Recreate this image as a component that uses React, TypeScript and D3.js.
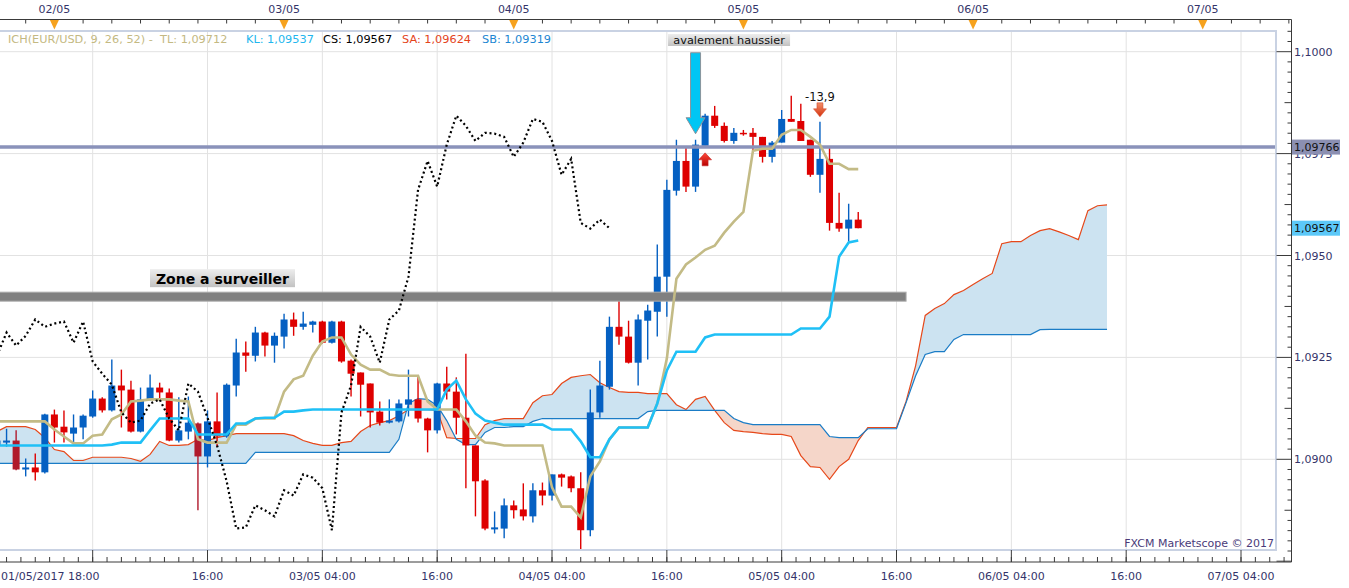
import * as React from "react";
import * as d3 from "d3";

// hourly EUR/USD candles, first one = 01/05/2017 18:00 (UTC)
const START = Date.UTC(2017, 4, 1, 18);
const HOUR = 3600 * 1000;

const opens = [
  1.09034,
  1.09041, 1.09046, 1.08975, 1.08980, 1.08968, 1.09110, 1.09080, 1.09063, 1.09078, 1.09105,
  1.09149, 1.09120, 1.09181, 1.09171, 1.09068, 1.09147, 1.09176, 1.09164, 1.09046, 1.09068,
  1.09088, 1.09007, 1.09093, 1.09056, 1.09181, 1.09262, 1.09254, 1.09311, 1.09279, 1.09301,
  1.09343, 1.09325, 1.09330, 1.09338, 1.09286, 1.09338, 1.09242, 1.09213, 1.09186, 1.09117,
  1.09090, 1.09093, 1.09134, 1.09147, 1.09100, 1.09071, 1.09186, 1.09166, 1.09102, 1.09034,
  1.08948, 1.08828, 1.08830, 1.08887, 1.08877, 1.08860, 1.08924, 1.08911, 1.08963, 1.08958,
  1.08929, 1.08826, 1.09115, 1.09178, 1.09325, 1.09301, 1.09237, 1.09340, 1.09362, 1.09448,
  1.09659, 1.09732, 1.09669, 1.09769, 1.09843, 1.09818, 1.09781, 1.09801, 1.09801, 1.09791,
  1.09742, 1.09777, 1.09835, 1.09830, 1.09784, 1.09698, 1.09737, 1.09580, 1.09566, 1.09588,
];
const highs = [
  1.09053,
  1.09075, 1.09071, 1.09002, 1.09014, 1.09112, 1.09122, 1.09120, 1.09110, 1.09110, 1.09169,
  1.09152, 1.09245, 1.09220, 1.09193, 1.09176, 1.09208, 1.09188, 1.09174, 1.09152, 1.09154,
  1.09090, 1.09120, 1.09164, 1.09186, 1.09296, 1.09289, 1.09325, 1.09313, 1.09311, 1.09357,
  1.09360, 1.09362, 1.09340, 1.09340, 1.09340, 1.09340, 1.09245, 1.09213, 1.09186, 1.09142,
  1.09147, 1.09147, 1.09220, 1.09205, 1.09102, 1.09188, 1.09227, 1.09201, 1.09259, 1.09034,
  1.08951, 1.08872, 1.08904, 1.08899, 1.08941, 1.08941, 1.08943, 1.08963, 1.08965, 1.08960,
  1.08968, 1.09171, 1.09242, 1.09350, 1.09406, 1.09340, 1.09355, 1.09379, 1.09527, 1.09686,
  1.09784, 1.09764, 1.09784, 1.09848, 1.09867, 1.09826, 1.09813, 1.09808, 1.09813, 1.09791,
  1.09781, 1.09857, 1.09892, 1.09872, 1.09784, 1.09828, 1.09764, 1.09654, 1.09627, 1.09607,
];
const lows = [
  1.09026,
  1.09031, 1.08973, 1.08958, 1.08948, 1.08965, 1.09041, 1.09041, 1.09039, 1.09049, 1.09102,
  1.09115, 1.09117, 1.09078, 1.09066, 1.09066, 1.09144, 1.09144, 1.09044, 1.09041, 1.09049,
  1.08875, 1.08980, 1.09031, 1.09053, 1.09154, 1.09215, 1.09240, 1.09252, 1.09237, 1.09272,
  1.09303, 1.09318, 1.09311, 1.09284, 1.09284, 1.09237, 1.09154, 1.09105, 1.09078, 1.09083,
  1.09088, 1.09090, 1.09105, 1.09090, 1.09017, 1.09063, 1.09147, 1.09061, 1.08929, 1.08860,
  1.08826, 1.08818, 1.08806, 1.08855, 1.08850, 1.08845, 1.08887, 1.08899, 1.08933, 1.08919,
  1.08747, 1.08811, 1.09102, 1.09171, 1.09281, 1.09235, 1.09181, 1.09245, 1.09301, 1.09350,
  1.09647, 1.09656, 1.09656, 1.09769, 1.09813, 1.09777, 1.09774, 1.09794, 1.09759, 1.09728,
  1.09728, 1.09777, 1.09828, 1.09781, 1.09693, 1.09654, 1.09561, 1.09558, 1.09534, 1.09567,
];
const closes = [
  1.09046,
  1.09046, 1.08975, 1.08980, 1.08968, 1.09110, 1.09078, 1.09066, 1.09078, 1.09107, 1.09149,
  1.09120, 1.09181, 1.09169, 1.09068, 1.09147, 1.09176, 1.09164, 1.09046, 1.09071, 1.09090,
  1.09007, 1.09093, 1.09056, 1.09183, 1.09262, 1.09254, 1.09311, 1.09279, 1.09303, 1.09343,
  1.09325, 1.09333, 1.09338, 1.09286, 1.09338, 1.09240, 1.09210, 1.09183, 1.09115, 1.09090,
  1.09095, 1.09137, 1.09147, 1.09100, 1.09071, 1.09186, 1.09166, 1.09102, 1.09034, 1.08946,
  1.08830, 1.08833, 1.08887, 1.08875, 1.08860, 1.08924, 1.08911, 1.08963, 1.08955, 1.08929,
  1.08826, 1.09115, 1.09181, 1.09325, 1.09301, 1.09237, 1.09343, 1.09365, 1.09448, 1.09661,
  1.09732, 1.09669, 1.09772, 1.09843, 1.09818, 1.09781, 1.09801, 1.09799, 1.09791, 1.09742,
  1.09777, 1.09835, 1.09828, 1.09781, 1.09698, 1.09737, 1.09580, 1.09566, 1.09588, 1.09567,
];

// Ichimoku lines, same time index as the candles
const tenkan = [
  1.09093,
  1.09093, 1.09093, 1.09093, 1.09093, 1.09093, 1.09073, 1.09056, 1.09039, 1.09039, 1.09058,
  1.09061, 1.09098, 1.09110, 1.09142, 1.09144, 1.09147, 1.09147, 1.09147, 1.09144, 1.09142,
  1.09049, 1.09041, 1.09041, 1.09041, 1.09085, 1.09085, 1.09100, 1.09100, 1.09100, 1.09166,
  1.09196, 1.09205, 1.09254, 1.09289, 1.09299, 1.09299, 1.09257, 1.09232, 1.09220, 1.09220,
  1.09208, 1.09205, 1.09205, 1.09205, 1.09142, 1.09122, 1.09122, 1.09122, 1.09093, 1.09058,
  1.09041, 1.09039, 1.09034, 1.09034, 1.09034, 1.09034, 1.09034, 1.08931, 1.08884, 1.08884,
  1.08857, 1.08958, 1.08995, 1.09049, 1.09078, 1.09078, 1.09078, 1.09078, 1.09137, 1.09247,
  1.09443, 1.09478, 1.09495, 1.09514, 1.09524, 1.09556, 1.09583, 1.09607, 1.09757, 1.09762,
  1.09762, 1.09796, 1.09808, 1.09808, 1.09791, 1.09772, 1.09725, 1.09725, 1.09712, 1.09712,
];
const kijun = [
  1.09034,
  1.09034, 1.09034, 1.09034, 1.09034, 1.09034, 1.09034, 1.09034, 1.09034, 1.09034, 1.09034,
  1.09034, 1.09036, 1.09041, 1.09041, 1.09041, 1.09071, 1.09100, 1.09100, 1.09100, 1.09100,
  1.09061, 1.09061, 1.09061, 1.09061, 1.09088, 1.09088, 1.09100, 1.09102, 1.09102, 1.09117,
  1.09117, 1.09120, 1.09122, 1.09122, 1.09122, 1.09122, 1.09122, 1.09122, 1.09122, 1.09122,
  1.09122, 1.09122, 1.09122, 1.09122, 1.09122, 1.09122, 1.09171, 1.09193, 1.09147, 1.09112,
  1.09095, 1.09090, 1.09085, 1.09085, 1.09085, 1.09085, 1.09085, 1.09073, 1.09073, 1.09073,
  1.09044, 1.09005, 1.09005, 1.09049, 1.09078, 1.09078, 1.09078, 1.09078, 1.09137, 1.09218,
  1.09264, 1.09264, 1.09264, 1.09299, 1.09306, 1.09306, 1.09306, 1.09306, 1.09306, 1.09306,
  1.09306, 1.09306, 1.09306, 1.09321, 1.09321, 1.09321, 1.09350, 1.09497, 1.09532, 1.09537,
];
// cloud spans, already displaced 26 hours ahead (index 0 = 01/05 18:00)
const senkouA = [
  1.09068,
  1.09080, 1.09080, 1.09080, 1.09073, 1.09053, 1.09024, 1.09019, 1.08997, 1.08997, 1.09005,
  1.09005, 1.09005, 1.09005, 1.09002, 1.08995, 1.09012, 1.09044, 1.09034, 1.09034, 1.09036,
  1.09049, 1.09046, 1.09053, 1.09058, 1.09063, 1.09063, 1.09063, 1.09063, 1.09063, 1.09063,
  1.09058, 1.09046, 1.09039, 1.09034, 1.09034, 1.09041, 1.09044, 1.09068, 1.09083, 1.09090,
  1.09095, 1.09107, 1.09122, 1.09122, 1.09122, 1.09120, 1.09053, 1.09051, 1.09051, 1.09051,
  1.09085, 1.09095, 1.09100, 1.09100, 1.09100, 1.09139, 1.09156, 1.09159, 1.09186, 1.09201,
  1.09205, 1.09208, 1.09188, 1.09176, 1.09166, 1.09164, 1.09164, 1.09161, 1.09161, 1.09161,
  1.09134, 1.09122, 1.09147, 1.09154, 1.09120, 1.09090, 1.09071, 1.09068, 1.09066, 1.09063,
  1.09061, 1.09061, 1.09056, 1.09009, 1.08982, 1.08980, 1.08951, 1.08982, 1.09000, 1.09046,
  1.09078, 1.09078, 1.09078, 1.09078, 1.09142, 1.09230, 1.09353, 1.09370, 1.09382, 1.09404,
  1.09414, 1.09429, 1.09443, 1.09456, 1.09529, 1.09534, 1.09534, 1.09549, 1.09561, 1.09566,
  1.09558, 1.09549, 1.09539, 1.09610, 1.09622, 1.09624,
];
const senkouB = [
  1.08990,
  1.08990, 1.08990, 1.08990, 1.08990, 1.08990, 1.08990, 1.08990, 1.08990, 1.08990, 1.08990,
  1.08990, 1.08990, 1.08990, 1.08990, 1.08990, 1.08990, 1.08990, 1.08990, 1.08990, 1.08990,
  1.08990, 1.08990, 1.08990, 1.08990, 1.08990, 1.08990, 1.09017, 1.09017, 1.09017, 1.09017,
  1.09017, 1.09017, 1.09017, 1.09017, 1.09017, 1.09017, 1.09017, 1.09017, 1.09017, 1.09017,
  1.09017, 1.09049, 1.09137, 1.09149, 1.09147, 1.09132, 1.09095, 1.09049, 1.09036, 1.09036,
  1.09066, 1.09078, 1.09078, 1.09080, 1.09080, 1.09093, 1.09100, 1.09100, 1.09100, 1.09100,
  1.09100, 1.09100, 1.09100, 1.09100, 1.09100, 1.09100, 1.09100, 1.09117, 1.09120, 1.09120,
  1.09120, 1.09120, 1.09120, 1.09120, 1.09120, 1.09120, 1.09100, 1.09090, 1.09085, 1.09085,
  1.09085, 1.09085, 1.09085, 1.09085, 1.09085, 1.09085, 1.09056, 1.09053, 1.09053, 1.09053,
  1.09075, 1.09075, 1.09075, 1.09075, 1.09139, 1.09205, 1.09257, 1.09264, 1.09264, 1.09294,
  1.09306, 1.09306, 1.09306, 1.09306, 1.09306, 1.09306, 1.09306, 1.09306, 1.09318, 1.09319,
  1.09319, 1.09319, 1.09319, 1.09319, 1.09319, 1.09319,
];
const CHIKOU_SHIFT = 26;
const darkCandles = [2, 21];

const level = 1.09766;
const lastClose = 1.09567;
const zonePrice = 1.09399;
const zoneEnd = Date.UTC(2017, 4, 5, 17);
const signalBar = 73; // 04/05 19:00
const confirmBar = 74;
const exitBar = 86;

const legend = [
  { text: "ICH(EUR/USD, 9, 26, 52) -  TL: 1,09712", color: "#c4b982", x: 8 },
  { text: "KL: 1,09537", color: "#22b6ee", x: 246 },
  { text: "CS: 1,09567", color: "#000000", x: 323 },
  { text: "SA: 1,09624", color: "#e4441c", x: 402 },
  { text: "SB: 1,09319", color: "#1c86d2", x: 482 },
];

const FONT = "DejaVu Sans, Verdana, sans-serif";
const AXIS_TXT = "#34346a";

export default function App() {
  const W = 1349, H = 588;
  const plot = { left: 0, top: 31, right: 1276, bottom: 550 };
  const axisX = 1291.5, topAxisY = 19.5, botAxisY = 562;

  const x = d3.scaleUtc()
    .domain([Date.UTC(2017, 4, 2), Date.UTC(2017, 4, 5)])
    .range([54.4, 743.4]);
  const y = d3.scaleLinear().domain([1.09, 1.1]).range([459.3, 51.7]);
  const t = (k: number) => new Date(START + k * HOUR);

  const tMax = x.invert(axisX);

  // top axis
  const topTicks = d3.utcHour.every(3)!.range(x.invert(0), tMax);
  const days = d3.utcDay.range(Date.UTC(2017, 4, 2) as any, tMax);
  const fmtDay = d3.utcFormat("%d/%m");

  // bottom axis
  const majors = d3.utcHour.range(x.invert(0), tMax)
    .filter(d => d.getUTCHours() === 4 || d.getUTCHours() === 16);
  const minors = d3.range(START + HOUR, +tMax, 90 * 60 * 1000).map(v => new Date(v));
  const fmtMajor = (d: Date) => d.getUTCHours() === 4 ? d3.utcFormat("%d/%m %H:%M")(d) : d3.utcFormat("%H:%M")(d);

  // price axis
  const priceTicks = d3.range(0, 53).map(k => ({ k, v: 1.0875 + k * 0.00025 }));
  const fmtPrice = (v: number) => v.toFixed(4).replace(".", ",");

  const cloudPts = senkouA.map((a, k) => ({ t: t(k), a, b: senkouB[k] }));
  const cloud = d3.area<any>().x(d => x(d.t)).y0(d => y(d.b)).y1(d => y(d.a))(cloudPts)!;
  const aboveB = d3.area<any>().x(d => x(d.t)).y0(0).y1(d => y(d.b))(cloudPts)!;
  const belowB = d3.area<any>().x(d => x(d.t)).y0(H).y1(d => y(d.b))(cloudPts)!;
  const lineOf = (vals: number[], off = 0) =>
    d3.line<number>().x((_, k) => x(t(k + off))).y(v => y(v))(vals)!;
  const chikou = closes.slice(CHIKOU_SHIFT);

  const bw = 7;

  const downArrow = (cx: number, ty: number, L: number, hh: number, hw: number, sw: number) =>
    `M${cx - sw / 2},${ty - L}L${cx + sw / 2},${ty - L}L${cx + sw / 2},${ty - hh}L${cx + hw / 2},${ty - hh}` +
    `L${cx},${ty}L${cx - hw / 2},${ty - hh}L${cx - sw / 2},${ty - hh}Z`;
  const upArrow = (cx: number, ty: number, L: number, hh: number, hw: number, sw: number) =>
    `M${cx - sw / 2},${ty + L}L${cx + sw / 2},${ty + L}L${cx + sw / 2},${ty + hh}L${cx + hw / 2},${ty + hh}` +
    `L${cx},${ty}L${cx - hw / 2},${ty + hh}L${cx - sw / 2},${ty + hh}Z`;

  const sigX = x(t(signalBar));
  const sigTip = y(highs[signalBar]) - 6;
  const confX = x(t(confirmBar));
  const confTip = y(lows[confirmBar]) + 7;
  const exitX = x(t(exitBar));
  const exitTip = y(highs[exitBar]) - 5;

  return (
    <svg width={W} height={H} style={{ position: "absolute", left: 0, top: 0, background: "#fff" }}
      fontFamily={FONT}>
      <defs>
        <clipPath id="plotClip">
          <rect x={plot.left} y={plot.top} width={plot.right - plot.left} height={plot.bottom - plot.top} />
        </clipPath>
        <clipPath id="aboveB"><path d={aboveB} /></clipPath>
        <clipPath id="belowB"><path d={belowB} /></clipPath>
        <linearGradient id="lblGrad" x1="0" y1="0" x2="0" y2="1">
          <stop offset="0" stopColor="#ededed" />
          <stop offset="1" stopColor="#c2c2c2" />
        </linearGradient>
        <linearGradient id="redUp" x1="0" y1="0" x2="0" y2="1">
          <stop offset="0" stopColor="#ff4a3a" />
          <stop offset="1" stopColor="#b80000" />
        </linearGradient>
        <linearGradient id="redDown" x1="0" y1="0" x2="0" y2="1">
          <stop offset="0" stopColor="#f4906a" />
          <stop offset="1" stopColor="#d4300c" />
        </linearGradient>
      </defs>

      {/* grid */}
      <g stroke="#e2e2e2" strokeWidth={1}>
        {priceTicks.filter(p => p.k % 10 === 0 && p.k > 0).map(p => (
          <line key={p.k} x1={plot.left} x2={plot.right} y1={y(p.v)} y2={y(p.v)} />
        ))}
        {majors.map(d => (
          <line key={+d} x1={x(d)} x2={x(d)} y1={plot.top} y2={plot.bottom} />
        ))}
      </g>

      <g clipPath="url(#plotClip)">
        {/* cloud */}
        <path d={cloud} fill="#cce3f1" clipPath="url(#aboveB)" />
        <path d={cloud} fill="#f5d6c9" clipPath="url(#belowB)" />
        <path d={lineOf(senkouA)} fill="none" stroke="#e6481a" strokeWidth={1.2} />
        <path d={lineOf(senkouB)} fill="none" stroke="#1a7cc6" strokeWidth={1.2} />

        {/* candles */}
        {opens.map((o, k) => {
          const c = closes[k];
          const cx = x(t(k));
          const up = c >= o;
          const col = up ? "#0560c2" : darkCandles.includes(k) ? "#b01a2c" : "#de0000";
          const top = y(Math.max(o, c)), bot = y(Math.min(o, c));
          return (
            <g key={k}>
              <line x1={cx} x2={cx} y1={y(highs[k])} y2={y(lows[k])} stroke={col} strokeWidth={1.4} />
              <rect x={cx - bw / 2} y={top} width={bw} height={Math.max(1.5, bot - top)} fill={col} />
            </g>
          );
        })}

        {/* level line */}
        <line x1={plot.left} x2={plot.right} y1={y(level)} y2={y(level)} stroke="#8a92ba" strokeWidth={3.5} />

        {/* zone */}
        <rect x={plot.left - 1} y={y(zonePrice) - 4.5} width={x(new Date(zoneEnd)) + 1} height={9}
          fill="#808080" stroke="#ababab" strokeWidth={1} />

        <path d={lineOf(tenkan)} fill="none" stroke="#c3bb86" strokeWidth={2.6} />
        <path d={lineOf(kijun)} fill="none" stroke="#1fc0f6" strokeWidth={2.6} />
        <path d={lineOf(chikou)} fill="none" stroke="#000" strokeWidth={2.2} strokeDasharray="2 2.8" />
      </g>

      {/* plot frame */}
      <rect x={plot.left - 2} y={plot.top} width={plot.right - plot.left + 2} height={plot.bottom - plot.top}
        fill="none" stroke="#c9d2e3" strokeWidth={2} />

      {/* legend */}
      <g fontSize={11.3}>
        {legend.map(l => (
          <text key={l.text} x={l.x} y={43} fill={l.color} style={{ whiteSpace: "pre" }}>{l.text}</text>
        ))}
      </g>

      {/* annotations */}
      <rect x={sigX - 27.5} y={34} width={122} height={12} fill="url(#lblGrad)" />
      <text x={sigX + 33.5} y={44} textAnchor="middle" fontSize={11.3} fill="#111">avalement haussier</text>
      <path d={downArrow(sigX, sigTip, 81, 16, 19, 10)} fill="#00c6f4" stroke="#8a939c" strokeWidth={1} />
      <path d={upArrow(confX, confTip, 13, 7, 13, 6)} fill="url(#redUp)" stroke="#c02020" strokeWidth={0.5} />
      <path d={downArrow(exitX, exitTip, 14, 8, 13, 6)} fill="url(#redDown)" stroke="#d04020" strokeWidth={0.5} />
      <text x={exitX} y={exitTip - 16} textAnchor="middle" fontSize={11.5} fill="#111">-13,9</text>

      <rect x={150} y={y(zonePrice) - 27.5} width={145} height={18} fill="url(#lblGrad)" />
      <text x={222.5} y={y(zonePrice) - 13} textAnchor="middle" fontSize={14} fontWeight="bold" fill="#000">
        Zone a surveiller
      </text>

      <text x={plot.right - 2} y={547} textAnchor="end" fontSize={11} fill="#4a3b7a">FXCM Marketscope © 2017</text>

      {/* top axis */}
      <line x1={0} x2={axisX} y1={topAxisY} y2={topAxisY} stroke="#3a3a3a" />
      {topTicks.map(d => (
        <line key={+d} x1={x(d)} x2={x(d)} y1={topAxisY} y2={topAxisY + 4} stroke="#3a3a3a" />
      ))}
      {days.map(d => (
        <g key={+d}>
          <path d={`M${x(d) - 4.5},${topAxisY + 0.5}L${x(d) + 4.5},${topAxisY + 0.5}L${x(d)},${topAxisY + 10}Z`}
            fill="#f6a21e" />
          <text x={x(d)} y={13} textAnchor="middle" fontSize={11} fill={AXIS_TXT}>{fmtDay(d)}</text>
        </g>
      ))}

      {/* bottom axis */}
      <line x1={0} x2={axisX} y1={botAxisY} y2={botAxisY} stroke="#3a3a3a" />
      {minors.map(d => (
        <line key={+d} x1={x(d)} x2={x(d)} y1={botAxisY - 5} y2={botAxisY} stroke="#3a3a3a" />
      ))}
      {majors.map(d => (
        <line key={+d} x1={x(d)} x2={x(d)} y1={plot.bottom} y2={botAxisY} stroke="#3a3a3a" />
      ))}
      <text x={1} y={580} fontSize={11} fill={AXIS_TXT}>{d3.utcFormat("%d/%m/%Y %H:%M")(new Date(START))}</text>
      {majors.slice(1).map(d => (
        <text key={+d} x={x(d)} y={580} textAnchor="middle" fontSize={11} fill={AXIS_TXT}>{fmtMajor(d)}</text>
      ))}

      {/* price axis */}
      <line x1={axisX} x2={axisX} y1={topAxisY} y2={botAxisY} stroke="#3a3a3a" />
      {priceTicks.map(p => {
        const len = p.k % 10 === 0 ? 15 : p.k % 5 === 0 ? 7 : 4;
        return <line key={p.k} x1={axisX - len} x2={axisX} y1={y(p.v)} y2={y(p.v)} stroke="#3a3a3a" />;
      })}
      {priceTicks.filter(p => p.k % 10 === 0 && p.k > 0).map(p => (
        <text key={p.k} x={1294} y={y(p.v) + 4} fontSize={11} fill={AXIS_TXT}>{fmtPrice(p.v)}</text>
      ))}
      <rect x={1292} y={y(level) - 7.5} width={48} height={15} fill="#8b8fb2" />
      <text x={1294} y={y(level) + 4} fontSize={11} fill="#111">{level.toFixed(5).replace(".", ",")}</text>
      <rect x={1292} y={y(lastClose) - 7.5} width={48} height={15} fill="#5cc8f8" />
      <text x={1294} y={y(lastClose) + 4} fontSize={11} fill="#111">{lastClose.toFixed(5).replace(".", ",")}</text>
    </svg>
  );
}
